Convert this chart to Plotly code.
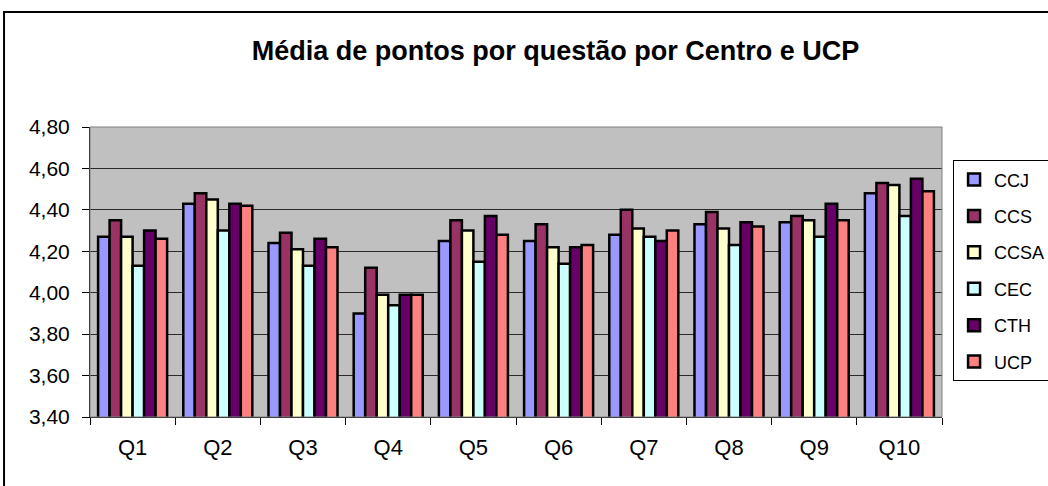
import plotly.graph_objects as go

# valores (média de pontos por questão)
questoes = ["Q1", "Q2", "Q3", "Q4", "Q5", "Q6", "Q7", "Q8", "Q9", "Q10"]
ccj = [4.27, 4.43, 4.24, 3.90, 4.25, 4.25, 4.28, 4.33, 4.34, 4.48]
ccs = [4.35, 4.48, 4.29, 4.12, 4.35, 4.33, 4.40, 4.39, 4.37, 4.53]
ccsa = [4.27, 4.45, 4.21, 3.99, 4.30, 4.22, 4.31, 4.31, 4.35, 4.52]
cec = [4.13, 4.30, 4.13, 3.94, 4.15, 4.14, 4.27, 4.23, 4.27, 4.37]
cth = [4.30, 4.43, 4.26, 3.99, 4.37, 4.22, 4.25, 4.34, 4.43, 4.55]
ucp = [4.26, 4.42, 4.22, 3.99, 4.28, 4.23, 4.30, 4.32, 4.35, 4.49]

series = [("CCJ", ccj, "#9999FF"), ("CCS", ccs, "#993366"), ("CCSA", ccsa, "#FFFFCC"),
          ("CEC", cec, "#CCFFFF"), ("CTH", cth, "#660066"), ("UCP", ucp, "#FF8080")]

fig = go.Figure()
for nome, vals, cor in series:
    fig.add_trace(go.Bar(
        x=questoes, y=vals, name=nome, legendgroup=nome,
        marker=dict(color=cor, line=dict(color="black", width=2.5)),
    ))

fig.update_layout(
    width=1048, height=486,
    margin=dict(l=90, r=106, t=127, b=69, autoexpand=False),
    paper_bgcolor="white",
    plot_bgcolor="#C0C0C0",
    separators=",.",
    font=dict(family="Liberation Sans, Arial, sans-serif", size=22, color="black"),
    title=dict(text="<b>Média de pontos por questão por Centro e UCP</b>",
               x=0.53, xanchor="center", y=0.897, yanchor="middle",
               font=dict(size=27)),
    barmode="group", bargap=0.19, bargroupgap=0,
    showlegend=True,
    legend=dict(x=1.013, y=0.885, xanchor="left", yanchor="top",
                xref="paper", yref="paper",
                bordercolor="black", borderwidth=1, bgcolor="white",
                tracegroupgap=10, font=dict(size=18)),
    xaxis=dict(showline=True, linecolor="black", linewidth=1,
               ticks="outside", tickson="boundaries", ticklen=7,
               tickcolor="black", showgrid=False, ticklabelstandoff=11),
    yaxis=dict(range=[3.4, 4.8], dtick=0.2, tickformat=".2f",
               showline=True, linecolor="black", linewidth=1,
               ticks="outside", ticklen=7, tickcolor="black",
               ticklabelstandoff=8, tickfont=dict(size=21),
               gridcolor="#2a2a2a", gridwidth=1, zeroline=False),
    shapes=[
        # borda da área do gráfico
        dict(type="rect", xref="paper", yref="paper",
             x0=-0.1009, x1=1.15, y0=-0.3, y1=1.3966,
             line=dict(color="black", width=2), layer="below"),
        # borda da área de plotagem
        dict(type="rect", xref="paper", yref="paper",
             x0=0, x1=1, y0=0, y1=1,
             line=dict(color="#808080", width=1)),
    ],
)

# sem a margem padrão do body, para o gráfico ficar no canto da página
fig.write_html("out.html", config={"displayModeBar": False},
               post_script="document.body.style.margin='0';")
